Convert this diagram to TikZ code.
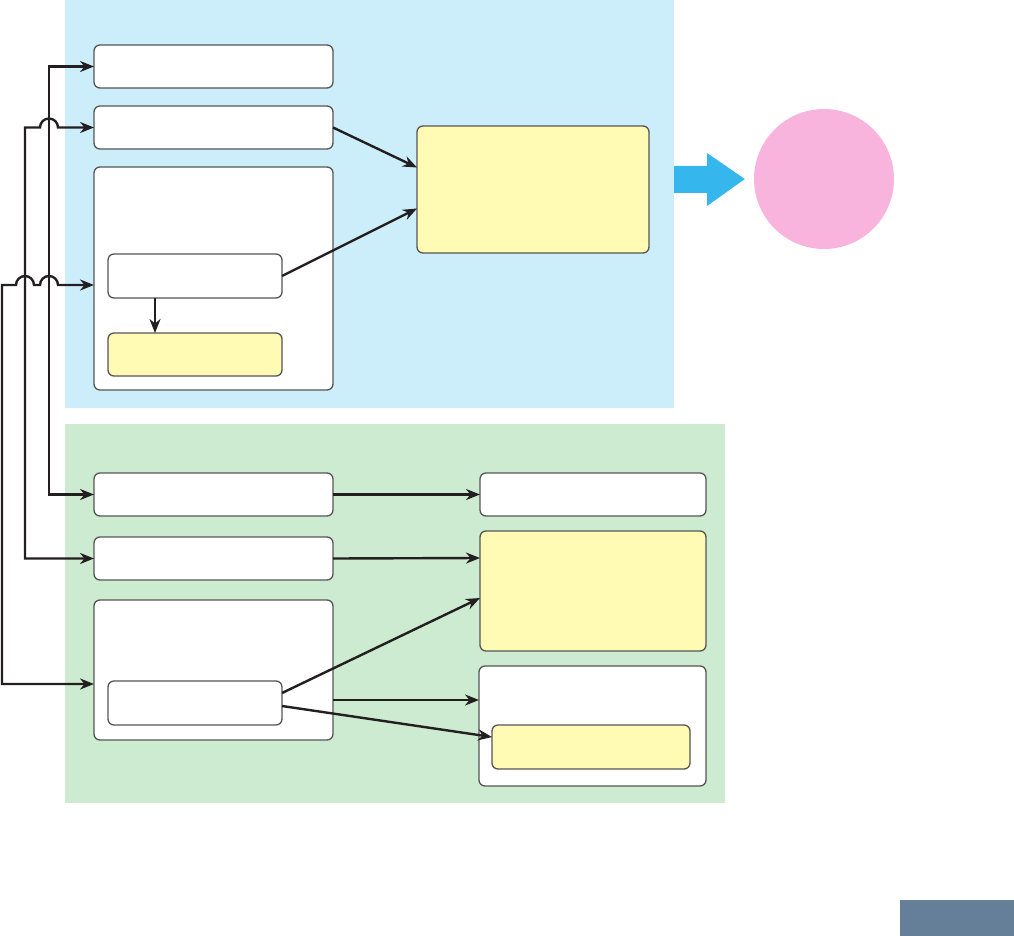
\documentclass[tikz,border=0pt]{standalone}
\usetikzlibrary{arrows.meta}
\definecolor{bgblue}{RGB}{204,238,250}
\definecolor{bggreen}{RGB}{205,235,208}
\definecolor{boxyellow}{RGB}{255,250,180}
\definecolor{pinkc}{RGB}{249,180,222}
\definecolor{arrowblue}{RGB}{53,182,236}
\definecolor{slate}{RGB}{102,127,153}
\definecolor{edgegray}{RGB}{85,85,85}
\definecolor{ink}{RGB}{35,31,32}
\tikzset{
  box/.style={draw=edgegray, line width=1.3pt, fill=white, rounded corners=6pt, inner sep=0pt, outer sep=0pt},
  ybox/.style={box, fill=boxyellow},
  conn/.style={draw=ink, line width=2.4pt, -{Stealth[length=14pt,width=11pt]}},
  bconn/.style={draw=ink, line width=2.4pt, {Stealth[length=14pt,width=11pt]}-{Stealth[length=14pt,width=11pt]}},
}
\begin{document}
\begin{tikzpicture}[x=1pt,y=-1pt]
\useasboundingbox (0,0) rectangle (1014,936);
% backgrounds
\fill[bgblue] (65,0) rectangle (674,408);
\fill[bggreen] (65,424) rectangle (725,803);
\fill[slate] (900,900) rectangle (1014,936);
% upper group
\node[box, minimum width=239pt, minimum height=43pt] (A1) at (213.5,66.5) {};
\node[box, minimum width=239pt, minimum height=43pt] (A2) at (213.5,127.5) {};
\node[box, minimum width=239pt, minimum height=223pt] (A3) at (213.5,278.5) {};
\node[box, minimum width=174pt, minimum height=44pt] (A3a) at (195,276) {};
\node[ybox, minimum width=174pt, minimum height=43pt] (A3b) at (195,354.5) {};
\node[ybox, minimum width=232pt, minimum height=127pt] (A4) at (533,189.5) {};
% lower group
\node[box, minimum width=239pt, minimum height=43pt] (B1) at (213.5,494.5) {};
\node[box, minimum width=239pt, minimum height=43pt] (B2) at (213.5,558.5) {};
\node[box, minimum width=239pt, minimum height=140pt] (B3) at (213.5,670) {};
\node[box, minimum width=174pt, minimum height=44pt] (B3a) at (195,703) {};
\node[box, minimum width=226pt, minimum height=43pt] (C1) at (593,494.5) {};
\node[ybox, minimum width=226pt, minimum height=120pt] (C2) at (593,591) {};
\node[box, minimum width=227pt, minimum height=120pt] (C3) at (592.5,726) {};
\node[ybox, minimum width=198pt, minimum height=44pt] (C3a) at (591,747) {};
% result
\node[circle, fill=pinkc, minimum size=140pt, inner sep=0pt] (P) at (824,179) {};
\fill[arrowblue] (674,166) -- (707,166) -- (707,153) -- ([xshift=-9pt]P.west) -- (707,206) -- (707,193) -- (674,193) -- cycle;
% internal connectors
\draw[conn] (A2.east) -- ([yshift=22pt]A4.west);
\draw[conn] (A3a.east) -- ([yshift=-19pt]A4.west);
\draw[conn] ([xshift=-40pt]A3a.south) -- ([xshift=-40pt]A3b.north);
\draw[conn] (B1.east) -- (C1.west);
\draw[conn] (B2.east) -- ([yshift=33pt]C2.west);
\draw[conn] ([yshift=10pt]B3a.east) -- ([yshift=-7pt]C2.west);
\draw[conn] ([yshift=-30pt]B3.east) -- ([yshift=26pt]C3.west);
\draw[conn] ([yshift=-3pt]B3a.east) -- ([yshift=10pt]C3a.west);
% left bus lines
\coordinate (k1) at (49,300);
\coordinate (k2) at (25,127.5);
\coordinate (k3) at (2,285);
\draw[bconn] (A1.west) -| (k1) |- (B1.west);
\draw[bconn] (B2.west) -| (k2) -- (40,127.5) arc[start angle=180,end angle=0,radius=9pt] -- (A2.west);
\draw[bconn] ([yshift=-14pt]B3.west) -| (k3) -- (16,285) arc[start angle=180,end angle=0,radius=9pt] -- (40,285) arc[start angle=180,end angle=0,radius=9pt] -- ([yshift=-6.5pt]A3.west);
\end{tikzpicture}
\end{document}
